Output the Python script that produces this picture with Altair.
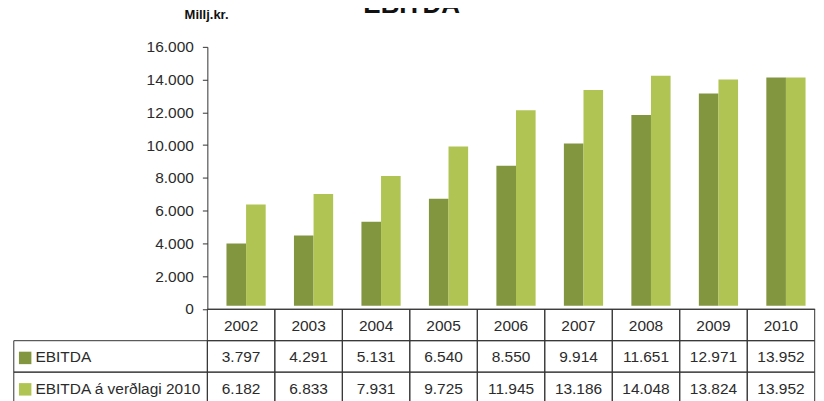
import altair as alt
import pandas as pd

# ---- data ----
years = ["2002", "2003", "2004", "2005", "2006", "2007", "2008", "2009", "2010"]
ebitda = [3797, 4291, 5131, 6540, 8550, 9914, 11651, 12971, 13952]
ebitda_2010 = [6182, 6833, 7931, 9725, 11945, 13186, 14048, 13824, 13952]
series = ["EBITDA", "EBITDA á verðlagi 2010"]
colors = ["#829640", "#B0C454"]
header_row = "Ár"
title_text = "EBITDA"
unit_text = "Millj.kr."
y_ticks = [0, 2000, 4000, 6000, 8000, 10000, 12000, 14000, 16000]

FONT = "Liberation Sans"
TXT = "#2b2b2b"
LINE = "#333333"

W1, W2, H1, H2 = 194, 608.7, 262.5, 94.5


def fmt(v):
    return f"{v:,}".replace(",", ".")


bars_df = pd.DataFrame({
    "year": years * 2,
    "series": [series[0]] * len(years) + [series[1]] * len(years),
    "value": ebitda + ebitda_2010,
})

table_rows = []
for i, yr in enumerate(years):
    table_rows.append({"year": yr, "row": header_row, "label": yr})
    table_rows.append({"year": yr, "row": series[0], "label": fmt(ebitda[i])})
    table_rows.append({"year": yr, "row": series[1], "label": fmt(ebitda_2010[i])})
table_df = pd.DataFrame(table_rows)
legend_df = pd.DataFrame({"row": series})


def row_scale():
    return alt.Scale(domain=[header_row] + series, paddingInner=0, paddingOuter=0)


# ---- top: bars ----
bars = alt.Chart(bars_df).mark_bar(yOffset=-3).encode(
    x=alt.X("year:N", sort=years, title=None,
            scale=alt.Scale(paddingInner=0.419, paddingOuter=0.2095, align=0.676),
            axis=alt.Axis(labels=False, ticks=False, domain=True, domainColor=LINE,
                          domainWidth=1, title=None, grid=False)),
    xOffset=alt.XOffset("series:N", sort=series,
                        scale=alt.Scale(paddingInner=0, paddingOuter=0)),
    y=alt.Y("value:Q", scale=alt.Scale(domain=[0, 16000], nice=False),
            axis=alt.Axis(values=y_ticks,
                          labelExpr="replace(format(datum.value, ','), ',', '.')",
                          title=unit_text, titleAngle=0, titleX=-1.3, titleY=-32.2,
                          titleAlign="center", titleBaseline="middle",
                          titleFontSize=13, titleFontWeight="bold", titleFont=FONT,
                          titleColor="#111111",
                          labelFont=FONT, labelFontSize=15.5, labelColor=TXT,
                          labelPadding=9, tickSize=5, tickColor=LINE,
                          domainColor=LINE, grid=False)),
    color=alt.Color("series:N", sort=series,
                    scale=alt.Scale(domain=series, range=colors), legend=None),
)

title_mark = alt.Chart(pd.DataFrame({"t": [title_text]})).mark_text(
    font=FONT, fontSize=26, fontWeight="bold", color="#111111",
    align="center", baseline="alphabetic"
).encode(text="t:N", x=alt.value(204.7), y=alt.value(-33.5))

top = alt.layer(bars, title_mark).properties(width=W2, height=H1)

spacer = alt.Chart(pd.DataFrame({"t": [""]})).mark_text().encode(
    text="t:N").properties(width=W1, height=H1)

# ---- bottom-left: legend column of data table ----
leg_box = alt.Chart(legend_df).mark_rect(filled=False, stroke=LINE, strokeWidth=1).encode(
    y=alt.Y("row:N", scale=row_scale(), axis=None),
    x=alt.value(0), x2=alt.value(W1),
)
leg_sw = alt.Chart(legend_df).mark_square(size=156, opacity=1, filled=True, yOffset=1.5).encode(
    y=alt.Y("row:N", scale=row_scale(), axis=None),
    x=alt.value(11.4),
    color=alt.Color("row:N", scale=alt.Scale(domain=series, range=colors), legend=None),
)
leg_tx = alt.Chart(legend_df).mark_text(
    align="left", baseline="middle", dy=1, font=FONT, fontSize=15.5, color=TXT
).encode(
    y=alt.Y("row:N", scale=row_scale(), axis=None),
    x=alt.value(21.7),
    text="row:N",
)
legend_col = alt.layer(leg_box, leg_sw, leg_tx).properties(width=W1, height=H2)

# ---- bottom-right: values table ----
tbl_box = alt.Chart(table_df).mark_rect(filled=False, stroke=LINE, strokeWidth=1).encode(
    x=alt.X("year:N", sort=years, scale=alt.Scale(paddingInner=0, paddingOuter=0), axis=None),
    y=alt.Y("row:N", scale=row_scale(), axis=None),
)
tbl_tx = alt.Chart(table_df).mark_text(
    align="center", baseline="middle", dy=1, font=FONT, fontSize=15.5, color=TXT
).encode(
    x=alt.X("year:N", sort=years, scale=alt.Scale(paddingInner=0, paddingOuter=0), axis=None),
    y=alt.Y("row:N", scale=row_scale(), axis=None),
    text="label:N",
)
table = alt.layer(tbl_box, tbl_tx).properties(width=W2, height=H2)

chart = alt.concat(
    spacer, top, legend_col, table, columns=2, spacing=0, bounds="flush"
).properties(
    padding={"left": 4.8, "top": -16.5, "right": 0, "bottom": 0}
).configure_view(strokeWidth=0)

chart.save("out.html", embed_options={"renderer": "svg", "actions": False})
